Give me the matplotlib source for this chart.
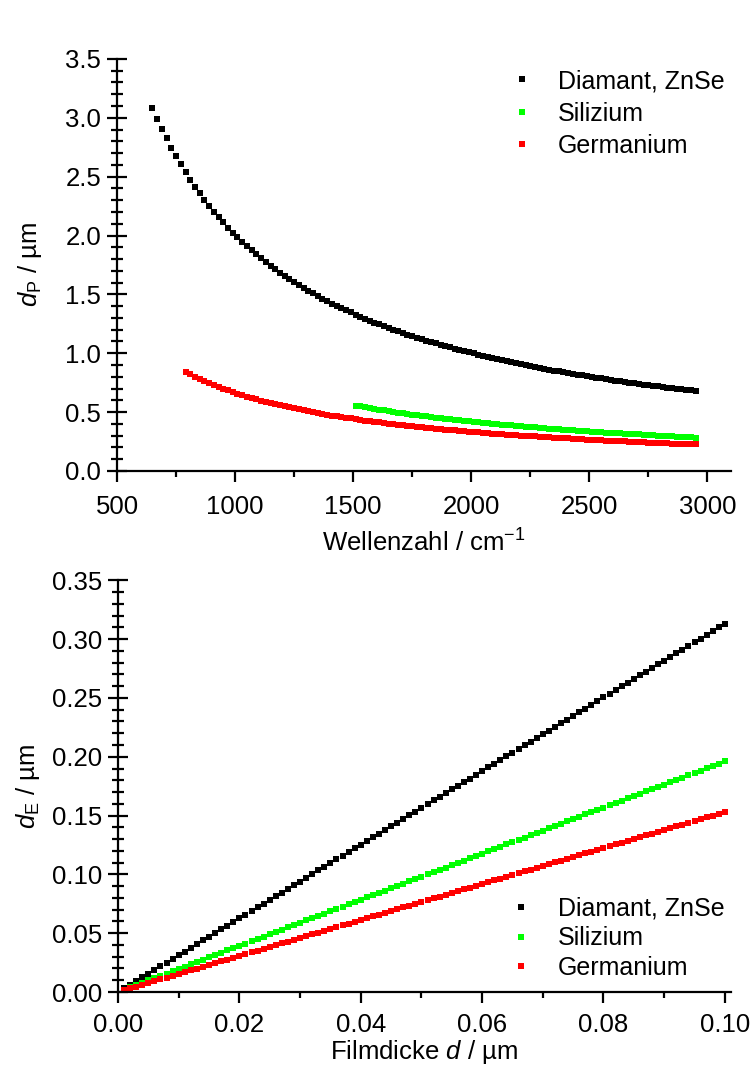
import matplotlib
matplotlib.use('Agg')
import matplotlib.pyplot as plt
from matplotlib.ticker import MultipleLocator, FormatStrFormatter

plt.rcParams['font.family'] = ['Liberation Sans', 'DejaVu Sans']
plt.rcParams['mathtext.fontset'] = 'custom'
plt.rcParams['mathtext.rm'] = 'Liberation Sans'
plt.rcParams['mathtext.it'] = 'Liberation Sans:italic'
plt.rcParams['font.size'] = 18.5

# Eindringtiefe d_P gegen Wellenzahl
wellenzahl = [650, 670, 690, 710, 730, 750, 770, 790, 810, 830, 850, 870, 890, 910, 930, 950,
              970, 990, 1010, 1030, 1050, 1070, 1090, 1110, 1130, 1150, 1170, 1190, 1210, 1230,
              1250, 1270, 1290, 1310, 1330, 1350, 1370, 1390, 1410, 1430, 1450, 1470, 1490, 1510,
              1530, 1550, 1570, 1590, 1610, 1630, 1650, 1670, 1690, 1710, 1730, 1750, 1770, 1790,
              1810, 1830, 1850, 1870, 1890, 1910, 1930, 1950, 1970, 1990, 2010, 2030, 2050, 2070,
              2090, 2110, 2130, 2150, 2170, 2190, 2210, 2230, 2250, 2270, 2290, 2310, 2330, 2350,
              2370, 2390, 2410, 2430, 2450, 2470, 2490, 2510, 2530, 2550, 2570, 2590, 2610, 2630,
              2650, 2670, 2690, 2710, 2730, 2750, 2770, 2790, 2810, 2830, 2850, 2870, 2890, 2910,
              2930, 2950]

dp_diamant = [3.085, 2.993, 2.906, 2.824, 2.747, 2.673, 2.604, 2.538, 2.475, 2.416, 2.359, 2.305,
              2.253, 2.203, 2.156, 2.111, 2.067, 2.025, 1.985, 1.947, 1.910, 1.874, 1.839, 1.806,
              1.774, 1.743, 1.714, 1.685, 1.657, 1.630, 1.604, 1.579, 1.554, 1.531, 1.508, 1.485,
              1.464, 1.442, 1.422, 1.402, 1.383, 1.364, 1.346, 1.328, 1.310, 1.294, 1.277, 1.261,
              1.245, 1.230, 1.215, 1.201, 1.186, 1.173, 1.159, 1.146, 1.133, 1.120, 1.108, 1.096,
              1.084, 1.072, 1.061, 1.050, 1.039, 1.028, 1.018, 1.008, 0.998, 0.988, 0.978, 0.969,
              0.959, 0.950, 0.941, 0.933, 0.924, 0.916, 0.907, 0.899, 0.891, 0.883, 0.876, 0.868,
              0.861, 0.853, 0.846, 0.839, 0.832, 0.825, 0.818, 0.812, 0.805, 0.799, 0.792, 0.786,
              0.780, 0.774, 0.768, 0.762, 0.757, 0.751, 0.745, 0.740, 0.734, 0.729, 0.724, 0.719,
              0.714, 0.708, 0.704, 0.699, 0.694, 0.689, 0.684, 0.680]

# Germanium ab 790 cm-1
dp_germanium = [0.841, 0.820, 0.800, 0.781, 0.763, 0.746, 0.730, 0.714, 0.699, 0.685, 0.671,
                0.657, 0.645, 0.632, 0.621, 0.609, 0.598, 0.588, 0.577, 0.568, 0.558, 0.549,
                0.540, 0.531, 0.523, 0.515, 0.507, 0.499, 0.492, 0.485, 0.478, 0.471, 0.464,
                0.458, 0.452, 0.446, 0.440, 0.434, 0.428, 0.423, 0.418, 0.412, 0.407, 0.402,
                0.398, 0.393, 0.388, 0.384, 0.379, 0.375, 0.371, 0.367, 0.363, 0.359, 0.355,
                0.351, 0.348, 0.344, 0.341, 0.337, 0.334, 0.330, 0.327, 0.324, 0.321, 0.318,
                0.315, 0.312, 0.309, 0.306, 0.303, 0.300, 0.298, 0.295, 0.293, 0.290, 0.287,
                0.285, 0.283, 0.280, 0.278, 0.276, 0.273, 0.271, 0.269, 0.267, 0.265, 0.262,
                0.260, 0.258, 0.256, 0.254, 0.252, 0.251, 0.249, 0.247, 0.245, 0.243, 0.241,
                0.240, 0.238, 0.236, 0.235, 0.233, 0.231, 0.230, 0.228, 0.227, 0.225]

# Silizium ab 1510 cm-1
dp_silizium = [0.556, 0.548, 0.541, 0.534, 0.528, 0.521, 0.515, 0.508, 0.502, 0.496, 0.491,
               0.485, 0.479, 0.474, 0.469, 0.464, 0.458, 0.454, 0.449, 0.444, 0.439, 0.435,
               0.430, 0.426, 0.422, 0.417, 0.413, 0.409, 0.405, 0.401, 0.398, 0.394, 0.390,
               0.387, 0.383, 0.380, 0.376, 0.373, 0.370, 0.366, 0.363, 0.360, 0.357, 0.354,
               0.351, 0.348, 0.345, 0.342, 0.340, 0.337, 0.334, 0.332, 0.329, 0.326, 0.324,
               0.321, 0.319, 0.317, 0.314, 0.312, 0.310, 0.307, 0.305, 0.303, 0.301, 0.299,
               0.296, 0.294, 0.292, 0.290, 0.288, 0.286, 0.284]

# effektive Schichtdicke d_E gegen Filmdicke
filmdicke = [0.001, 0.002, 0.003, 0.004, 0.005, 0.006, 0.007, 0.008, 0.009, 0.010,
             0.011, 0.012, 0.013, 0.014, 0.015, 0.016, 0.017, 0.018, 0.019, 0.020,
             0.021, 0.022, 0.023, 0.024, 0.025, 0.026, 0.027, 0.028, 0.029, 0.030,
             0.031, 0.032, 0.033, 0.034, 0.035, 0.036, 0.037, 0.038, 0.039, 0.040,
             0.041, 0.042, 0.043, 0.044, 0.045, 0.046, 0.047, 0.048, 0.049, 0.050,
             0.051, 0.052, 0.053, 0.054, 0.055, 0.056, 0.057, 0.058, 0.059, 0.060,
             0.061, 0.062, 0.063, 0.064, 0.065, 0.066, 0.067, 0.068, 0.069, 0.070,
             0.071, 0.072, 0.073, 0.074, 0.075, 0.076, 0.077, 0.078, 0.079, 0.080,
             0.081, 0.082, 0.083, 0.084, 0.085, 0.086, 0.087, 0.088, 0.089, 0.090,
             0.091, 0.092, 0.093, 0.094, 0.095, 0.096, 0.097, 0.098, 0.099, 0.100]

de_diamant = [0.0031, 0.0063, 0.0094, 0.0125, 0.0157, 0.0188, 0.0219, 0.0250, 0.0282, 0.0313,
              0.0344, 0.0376, 0.0407, 0.0438, 0.0470, 0.0501, 0.0532, 0.0563, 0.0595, 0.0626,
              0.0657, 0.0689, 0.0720, 0.0751, 0.0783, 0.0814, 0.0845, 0.0876, 0.0908, 0.0939,
              0.0970, 0.1002, 0.1033, 0.1064, 0.1096, 0.1127, 0.1158, 0.1189, 0.1221, 0.1252,
              0.1283, 0.1315, 0.1346, 0.1377, 0.1409, 0.1440, 0.1471, 0.1502, 0.1534, 0.1565,
              0.1596, 0.1628, 0.1659, 0.1690, 0.1722, 0.1753, 0.1784, 0.1815, 0.1847, 0.1878,
              0.1909, 0.1941, 0.1972, 0.2003, 0.2035, 0.2066, 0.2097, 0.2128, 0.2160, 0.2191,
              0.2222, 0.2254, 0.2285, 0.2316, 0.2348, 0.2379, 0.2410, 0.2441, 0.2473, 0.2504,
              0.2535, 0.2567, 0.2598, 0.2629, 0.2661, 0.2692, 0.2723, 0.2754, 0.2786, 0.2817,
              0.2848, 0.2880, 0.2911, 0.2942, 0.2974, 0.3005, 0.3036, 0.3067, 0.3099, 0.3130]

de_silizium = [0.0020, 0.0039, 0.0059, 0.0078, 0.0098, 0.0118, 0.0137, 0.0157, 0.0176, 0.0196,
               0.0216, 0.0235, 0.0255, 0.0274, 0.0294, 0.0314, 0.0333, 0.0353, 0.0372, 0.0392,
               0.0412, 0.0431, 0.0451, 0.0470, 0.0490, 0.0510, 0.0529, 0.0549, 0.0568, 0.0588,
               0.0608, 0.0627, 0.0647, 0.0666, 0.0686, 0.0706, 0.0725, 0.0745, 0.0764, 0.0784,
               0.0804, 0.0823, 0.0843, 0.0862, 0.0882, 0.0902, 0.0921, 0.0941, 0.0960, 0.0980,
               0.1000, 0.1019, 0.1039, 0.1058, 0.1078, 0.1098, 0.1117, 0.1137, 0.1156, 0.1176,
               0.1196, 0.1215, 0.1235, 0.1254, 0.1274, 0.1294, 0.1313, 0.1333, 0.1352, 0.1372,
               0.1392, 0.1411, 0.1431, 0.1450, 0.1470, 0.1490, 0.1509, 0.1529, 0.1548, 0.1568,
               0.1588, 0.1607, 0.1627, 0.1646, 0.1666, 0.1686, 0.1705, 0.1725, 0.1744, 0.1764,
               0.1784, 0.1803, 0.1823, 0.1842, 0.1862, 0.1882, 0.1901, 0.1921, 0.1940, 0.1960]

de_germanium = [0.0015, 0.0031, 0.0046, 0.0061, 0.0077, 0.0092, 0.0107, 0.0122, 0.0138, 0.0153,
                0.0168, 0.0184, 0.0199, 0.0214, 0.0230, 0.0245, 0.0260, 0.0275, 0.0291, 0.0306,
                0.0321, 0.0337, 0.0352, 0.0367, 0.0383, 0.0398, 0.0413, 0.0428, 0.0444, 0.0459,
                0.0474, 0.0490, 0.0505, 0.0520, 0.0536, 0.0551, 0.0566, 0.0581, 0.0597, 0.0612,
                0.0627, 0.0643, 0.0658, 0.0673, 0.0689, 0.0704, 0.0719, 0.0734, 0.0750, 0.0765,
                0.0780, 0.0796, 0.0811, 0.0826, 0.0842, 0.0857, 0.0872, 0.0887, 0.0903, 0.0918,
                0.0933, 0.0949, 0.0964, 0.0979, 0.0995, 0.1010, 0.1025, 0.1040, 0.1056, 0.1071,
                0.1086, 0.1102, 0.1117, 0.1132, 0.1148, 0.1163, 0.1178, 0.1193, 0.1209, 0.1224,
                0.1239, 0.1255, 0.1270, 0.1285, 0.1301, 0.1316, 0.1331, 0.1346, 0.1362, 0.1377,
                0.1392, 0.1408, 0.1423, 0.1438, 0.1454, 0.1469, 0.1484, 0.1499, 0.1515, 0.1530]

labels = ['Diamant, ZnSe', 'Silizium', 'Germanium']
farben = ['black', '#00ff00', '#ff0000']
MS = 4.4


def achsen_stil(ax, xpad):
    ax.spines['top'].set_visible(False)
    ax.spines['right'].set_visible(False)
    for s in ('left', 'bottom'):
        ax.spines[s].set_linewidth(1.6)
    ax.tick_params(axis='y', which='major', direction='inout', length=15, width=1.6, pad=4)
    ax.tick_params(axis='y', which='minor', direction='inout', length=8.5, width=1.6)
    ax.tick_params(axis='x', which='major', direction='out', length=8, width=1.6, pad=xpad)
    ax.tick_params(axis='x', which='minor', direction='out', length=4.5, width=1.6)


fig = plt.figure(figsize=(7.53, 10.75), dpi=100)

# oben: Eindringtiefe
ax1 = fig.add_axes([0.1554, 0.5619, 0.8154, 0.3833])
ax1.plot(wellenzahl, dp_diamant, 's', color=farben[0], ms=MS, mew=0, label=labels[0])
ax1.plot(wellenzahl[43:], dp_silizium, 's', color=farben[1], ms=MS, mew=0, label=labels[1])
ax1.plot(wellenzahl[7:], dp_germanium, 's', color=farben[2], ms=MS, mew=0, label=labels[2])
ax1.set_xlim(500, 3100)
ax1.set_ylim(0, 3.5)
ax1.xaxis.set_major_locator(MultipleLocator(500))
ax1.xaxis.set_minor_locator(MultipleLocator(250))
ax1.yaxis.set_major_locator(MultipleLocator(0.5))
ax1.yaxis.set_minor_locator(MultipleLocator(0.1))
ax1.yaxis.set_major_formatter(FormatStrFormatter('%.1f'))
achsen_stil(ax1, 9)
ax1.set_xlabel('Wellenzahl / cm$^{-1}$', labelpad=8)
ax1.set_ylabel('$\\mathit{d}_\\mathrm{P}$ / µm', labelpad=15)
ax1.legend(loc='upper right', bbox_to_anchor=(1.026, 1.03), frameon=False, markerscale=1.0,
           handlelength=1.0, handletextpad=0.95, labelspacing=0.34, fontsize=18)

# unten: effektive Schichtdicke
ax2 = fig.add_axes([0.1567, 0.0772, 0.814, 0.383])
ax2.plot(filmdicke, de_diamant, 's', color=farben[0], ms=MS, mew=0, label=labels[0])
ax2.plot(filmdicke, de_silizium, 's', color=farben[1], ms=MS, mew=0, label=labels[1])
ax2.plot(filmdicke, de_germanium, 's', color=farben[2], ms=MS, mew=0, label=labels[2])
ax2.set_xlim(0, 0.101)
ax2.set_ylim(0, 0.35)
ax2.xaxis.set_major_locator(MultipleLocator(0.02))
ax2.xaxis.set_minor_locator(MultipleLocator(0.01))
ax2.yaxis.set_major_locator(MultipleLocator(0.05))
ax2.yaxis.set_minor_locator(MultipleLocator(0.01))
ax2.xaxis.set_major_formatter(FormatStrFormatter('%.2f'))
ax2.yaxis.set_major_formatter(FormatStrFormatter('%.2f'))
achsen_stil(ax2, 7)
ax2.set_xlabel('Filmdicke $\\mathit{d}$ / µm', labelpad=1)
ax2.set_ylabel('$\\mathit{d}_\\mathrm{E}$ / µm', labelpad=7)
ax2.legend(loc='lower right', bbox_to_anchor=(1.026, -0.025), frameon=False, markerscale=1.0,
           handlelength=1.0, handletextpad=0.95, labelspacing=0.22, fontsize=18)

fig.savefig('out.png', dpi=100)
